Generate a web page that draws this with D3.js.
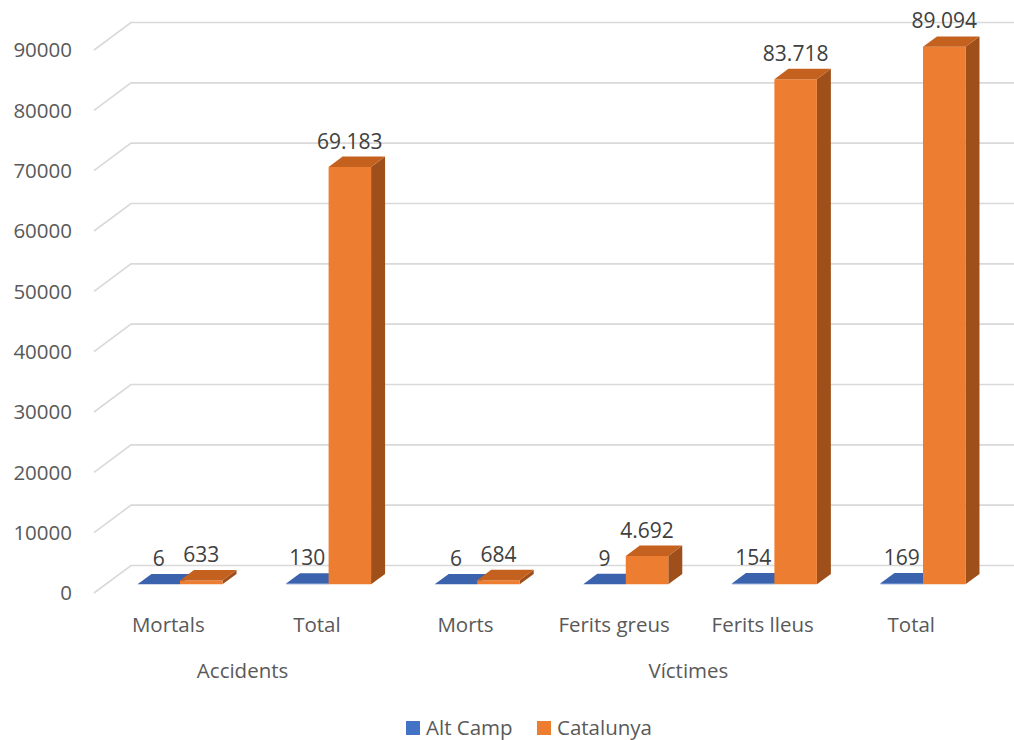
<!DOCTYPE html>
<html>
<head>
<meta charset="utf-8">
<script src="https://cdn.jsdelivr.net/npm/d3@7"></script>
<style>
  html, body { margin: 0; padding: 0; background: #fff; }
  svg { display: block; font-family: "Open Sans", sans-serif; }
</style>
</head>
<body>
<svg id="chart" width="1014" height="740"></svg>
<script>
const categories = ["Mortals", "Total", "Morts", "Ferits greus", "Ferits lleus", "Total"];
const groupNames = ["Accidents", "Víctimes"];
const groupStart = [0, 2];
const groupEnd = [1, 5];
const seriesNames = ["Alt Camp", "Catalunya"];
const altCamp = [6, 130, 6, 9, 154, 169];
const catalunya = [633, 69183, 684, 4692, 83718, 89094];
const yTicks = [0, 10000, 20000, 30000, 40000, 50000, 60000, 70000, 80000, 90000];

const W = 1014, H = 740;
const svg = d3.select("#chart");

// 3D oblique projection parameters
const DX = 37, DY = 27.5;       // full floor depth offset
const zBarFront = 0.316, zBarBack = 0.694;
const xFront0 = 94, step = 148.6;

const x = d3.scaleBand()
  .domain(d3.range(categories.length))
  .range([xFront0, xFront0 + step * categories.length])
  .paddingInner(0.428)
  .paddingOuter(0.214);
const xs = d3.scaleBand().domain([0, 1]).range([0, x.bandwidth()]);
const y = d3.scaleLinear().domain([0, 90000]).range([593, 50]);

const P = (px, v, z) => [px + z * DX, y(v) - z * DY];

const colors = [
  { front: "#4472C4", top: "#3A62AD", side: "#2F5597" },
  { front: "#ED7D31", top: "#C5611E", side: "#9E4F1A" }
];
const fmt = d3.formatLocale({ decimal: ",", thousands: ".", grouping: [3], currency: ["", ""] }).format(",d");

// gridlines
const xRightFront = x.range()[1];
const grid = svg.append("g");
yTicks.forEach(t => {
  const a = P(xFront0, t, 0), b = P(xFront0, t, 1), c = P(xRightFront, t, 1);
  grid.append("path")
    .attr("d", d3.line()([a, b, c]))
    .attr("fill", "none")
    .attr("stroke", "#D9D9D9")
    .attr("stroke-width", 1.6);
});

// y axis labels
svg.append("g").selectAll("text").data(yTicks).join("text")
  .attr("x", 72)
  .attr("y", d => y(d))
  .attr("dy", "0.36em")
  .attr("text-anchor", "end")
  .attr("font-size", 20.5)
  .attr("fill", "#595959")
  .text(d => d);

// bars
const series = [altCamp, catalunya];
const bars = [];
categories.forEach((c, i) => {
  series.forEach((vals, s) => {
    bars.push({ i, s, v: vals[i] });
  });
});
const gBars = svg.append("g");
bars.forEach(b => {
  const x0 = x(b.i) + xs(b.s), x1 = x0 + xs.bandwidth();
  const col = colors[b.s];
  const front = [P(x0, 0, zBarFront), P(x1, 0, zBarFront), P(x1, b.v, zBarFront), P(x0, b.v, zBarFront)];
  const top = [P(x0, b.v, zBarFront), P(x1, b.v, zBarFront), P(x1, b.v, zBarBack), P(x0, b.v, zBarBack)];
  const side = [P(x1, 0, zBarFront), P(x1, 0, zBarBack), P(x1, b.v, zBarBack), P(x1, b.v, zBarFront)];
  const g = gBars.append("g");
  g.append("path").attr("d", d3.line()(side) + "Z").attr("fill", col.side);
  g.append("path").attr("d", d3.line()(front) + "Z").attr("fill", col.front);
  g.append("path").attr("d", d3.line()(top) + "Z").attr("fill", col.top);
});

// data labels
svg.append("g").selectAll("text").data(bars).join("text")
  .attr("x", d => P(x(d.i) + xs(d.s) + xs.bandwidth() / 2, d.v, zBarFront)[0])
  .attr("y", d => P(0, d.v, zBarBack)[1] - 8)
  .attr("text-anchor", "middle")
  .attr("font-size", 21)
  .attr("fill", "#404040")
  .text(d => fmt(d.v));

// category labels
svg.append("g").selectAll("text").data(categories).join("text")
  .attr("x", (d, i) => x(i) + x.bandwidth() / 2)
  .attr("y", 632)
  .attr("text-anchor", "middle")
  .attr("font-size", 20.5)
  .attr("fill", "#595959")
  .text(d => d);

// group labels
svg.append("g").selectAll("text").data(groupNames).join("text")
  .attr("x", (d, k) => (x(groupStart[k]) + x(groupEnd[k]) + x.bandwidth()) / 2)
  .attr("y", 678)
  .attr("text-anchor", "middle")
  .attr("font-size", 20.5)
  .attr("fill", "#595959")
  .text(d => d);

// legend
const legX = [406, 537];
const leg = svg.append("g").selectAll("g").data(seriesNames).join("g")
  .attr("transform", (d, k) => `translate(${legX[k]},721)`);
leg.append("rect").attr("width", 14).attr("height", 14).attr("fill", (d, k) => colors[k].front);
leg.append("text").attr("x", 20).attr("y", 14).attr("font-size", 20.5).attr("fill", "#595959").text(d => d);
</script>
</body>
</html>
